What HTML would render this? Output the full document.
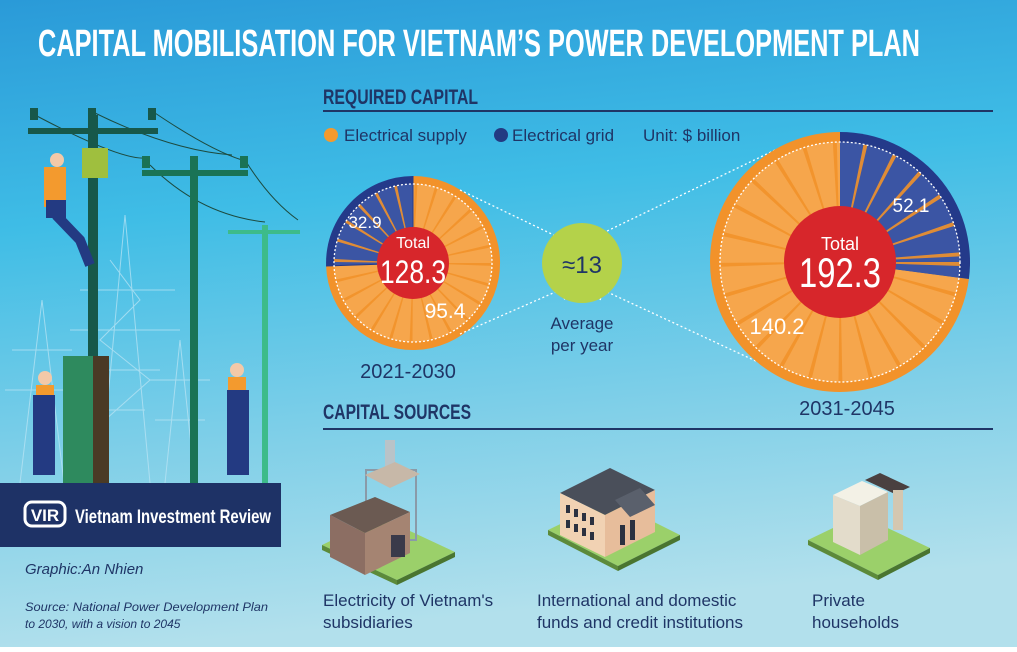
<!DOCTYPE html>
<html><head><meta charset="utf-8"><style>
html,body{margin:0;padding:0;}
body{width:1017px;height:647px;overflow:hidden;}
svg text{font-family:"Liberation Sans Narrow","Liberation Sans",sans-serif;}
</style></head><body>
<svg width="1017" height="647" viewBox="0 0 1017 647" xmlns="http://www.w3.org/2000/svg">
<defs>
<linearGradient id="bg" x1="0" y1="0" x2="0.15" y2="1">
<stop offset="0" stop-color="#2a9ad8"/><stop offset="0.35" stop-color="#3fbde6"/><stop offset="0.7" stop-color="#7fcfe8"/><stop offset="1" stop-color="#b2e0ec"/>
</linearGradient>
<clipPath id="cs"><circle cx="413" cy="263" r="79"/></clipPath>
<clipPath id="cb"><circle cx="840" cy="262" r="120"/></clipPath>
</defs>
<rect width="1017" height="647" fill="url(#bg)"/>

<text x="38" y="56" font-size="38" font-weight="bold" fill="#fff" textLength="882" lengthAdjust="spacingAndGlyphs">CAPITAL MOBILISATION FOR VIETNAM’S POWER DEVELOPMENT PLAN</text>

<text x="323" y="104" font-size="21" font-weight="bold" fill="#1f3566" textLength="155" lengthAdjust="spacingAndGlyphs">REQUIRED CAPITAL</text>
<line x1="323" y1="111" x2="993" y2="111" stroke="#1f3566" stroke-width="2"/>
<circle cx="331" cy="135" r="7" fill="#f39a2e"/>
<text x="344" y="141" font-size="17" fill="#1f3566" font-family="Liberation Sans">Electrical supply</text>
<circle cx="501" cy="135" r="7" fill="#233a82"/>
<text x="512" y="141" font-size="17" fill="#1f3566" font-family="Liberation Sans">Electrical grid</text>
<text x="643" y="141" font-size="17" fill="#1f3566" font-family="Liberation Sans">Unit: $ billion</text>

<!-- small pie -->
<path d="M413,263 L413,176 A87,87 0 1 1 326.1,266 Z" fill="#f2922a"/>
<path d="M413,263 L413,176 A87,87 0 0 0 326.1,266 Z" fill="#243a8a"/>
<g clip-path="url(#cs)">
<path d="M413,263 L413,176 A87,87 0 1 1 326.1,266 Z" fill="#f6a64c"/>
<path d="M413,263 L413,176 A87,87 0 0 0 326.1,266 Z" fill="#3b55a4"/>
<circle cx="413" cy="263" r="40" fill="none" stroke="#f2922a" stroke-width="80" stroke-dasharray="1.5 9" opacity="0.9"/>
</g>
<path d="M413,263 L413,176 M413,263 L326,266" stroke="#243a8a" stroke-width="1"/>
<circle cx="413" cy="263" r="79" fill="none" stroke="#fff" stroke-width="1.3" stroke-dasharray="2 2"/>
<circle cx="413" cy="263" r="36" fill="#d7262b"/>
<text x="413" y="248" font-size="16" fill="#fff" text-anchor="middle">Total</text>
<text x="413" y="283" font-size="32" fill="#fff" text-anchor="middle" textLength="66" lengthAdjust="spacingAndGlyphs">128.3</text>
<text x="365" y="228" font-size="17" fill="#fff" text-anchor="middle">32.9</text>
<text x="445" y="318" font-size="21" fill="#fff" text-anchor="middle">95.4</text>
<text x="408" y="378" font-size="20" fill="#1f3566" text-anchor="middle">2021-2030</text>

<!-- connectors -->
<g fill="none" stroke="#fff" stroke-width="1.3" stroke-dasharray="2 2.5">
<path d="M460,190 L560,238"/>
<path d="M460,334 L560,290"/>
<path d="M603,233 L775,150"/>
<path d="M603,290 L775,370"/>
<path d="M565,228 Q548,263 565,300"/>
<path d="M600,228 Q615,263 600,300"/>
</g>
<circle cx="582" cy="263" r="40" fill="#b4d24a"/>
<text x="582" y="273" font-size="24" fill="#1f3566" text-anchor="middle">≈13</text>
<text x="582" y="329" font-size="17" fill="#1f3566" text-anchor="middle">Average</text>
<text x="582" y="351" font-size="17" fill="#1f3566" text-anchor="middle">per year</text>

<!-- big pie -->
<path d="M840,262 L840,132 A130,130 0 1 0 968.9,279 Z" fill="#f2922a"/>
<path d="M840,262 L840,132 A130,130 0 0 1 968.9,279 Z" fill="#243a8a"/>
<g clip-path="url(#cb)">
<path d="M840,262 L840,132 A130,130 0 1 0 968.9,279 Z" fill="#f6a64c"/>
<path d="M840,262 L840,132 A130,130 0 0 1 968.9,279 Z" fill="#3b55a4"/>
<circle cx="840" cy="262" r="60" fill="none" stroke="#f2922a" stroke-width="120" stroke-dasharray="2 13.5" opacity="0.9"/>
</g>
<circle cx="840" cy="262" r="120" fill="none" stroke="#fff" stroke-width="1.3" stroke-dasharray="2 2"/>
<circle cx="840" cy="262" r="56" fill="#d7262b"/>
<text x="840" y="250" font-size="18" fill="#fff" text-anchor="middle">Total</text>
<text x="840" y="287" font-size="42" fill="#fff" text-anchor="middle" textLength="82" lengthAdjust="spacingAndGlyphs">192.3</text>
<text x="911" y="212" font-size="19" fill="#fff" text-anchor="middle">52.1</text>
<text x="777" y="334" font-size="22" fill="#fff" text-anchor="middle">140.2</text>
<text x="847" y="415" font-size="20" fill="#1f3566" text-anchor="middle">2031-2045</text>

<text x="323" y="419" font-size="21" font-weight="bold" fill="#1f3566" textLength="148" lengthAdjust="spacingAndGlyphs">CAPITAL SOURCES</text>
<line x1="323" y1="429" x2="993" y2="429" stroke="#1f3566" stroke-width="2"/>

<!-- icon 1: power plant -->
<polygon points="322,545 380,517 455,552 397,580" fill="#9bd06a"/>
<polygon points="322,545 397,580 397,585 322,550" fill="#5c8a3a"/>
<polygon points="397,580 455,552 455,557 397,585" fill="#4a7530"/>
<rect x="366" y="470" width="50" height="70" fill="none" stroke="#8a9aa8" stroke-width="2"/>
<rect x="385" y="440" width="10" height="40" fill="#b9c3c8"/>
<polygon points="365,475 395,462 420,474 390,488" fill="#c7b8a8"/>
<polygon points="330,515 375,497 410,512 365,533" fill="#6b5a52"/>
<polygon points="330,515 365,533 365,575 330,557" fill="#8c6e63"/>
<polygon points="365,533 410,512 410,553 365,575" fill="#a58472"/>
<rect x="391" y="535" width="14" height="22" fill="#3a3a4a"/>
<!-- icon 2: bank -->
<polygon points="548,530 610,500 680,535 618,566" fill="#9bd06a"/>
<polygon points="548,530 618,566 618,571 548,535" fill="#5c8a3a"/>
<polygon points="618,566 680,535 680,540 618,571" fill="#4a7530"/>
<polygon points="560,493 610,468 655,490 605,515" fill="#4a4f5a"/>
<polygon points="560,493 605,515 605,557 560,535" fill="#f1d2b3"/>
<polygon points="605,515 655,490 655,532 605,557" fill="#e7bd9b"/>
<g fill="#2b3140"><rect x="566" y="505" width="4" height="8"/><rect x="574" y="509" width="4" height="8"/><rect x="582" y="513" width="4" height="8"/><rect x="590" y="517" width="4" height="8"/><rect x="566" y="520" width="4" height="8"/><rect x="574" y="524" width="4" height="8"/><rect x="582" y="528" width="4" height="8"/><rect x="590" y="532" width="4" height="8"/><rect x="620" y="525" width="5" height="20"/><rect x="630" y="520" width="5" height="20"/></g>
<polygon points="615,500 640,488 655,505 630,517" fill="#5a606c"/>
<!-- icon 3: house -->
<polygon points="808,540 860,515 930,548 878,575" fill="#9bd06a"/>
<polygon points="808,540 878,575 878,580 808,545" fill="#5c8a3a"/>
<polygon points="878,575 930,548 930,553 878,580" fill="#4a7530"/>
<polygon points="833,495 862,481 888,492 860,506" fill="#f3f1e6"/>
<polygon points="833,495 860,506 860,555 833,542" fill="#e3dccb"/>
<polygon points="860,506 888,492 888,540 860,555" fill="#c9bfa9"/>
<polygon points="865,480 880,473 910,487 895,494" fill="#4a4040"/>
<rect x="893" y="490" width="10" height="40" fill="#d4c7b0"/>

<text x="323" y="606" font-size="17" fill="#1f3566" font-family="Liberation Sans">Electricity of Vietnam's</text>
<text x="323" y="628" font-size="17" fill="#1f3566" font-family="Liberation Sans">subsidiaries</text>
<text x="537" y="606" font-size="17" fill="#1f3566" font-family="Liberation Sans">International and domestic</text>
<text x="537" y="628" font-size="17" fill="#1f3566" font-family="Liberation Sans">funds and credit institutions</text>
<text x="812" y="606" font-size="17" fill="#1f3566" font-family="Liberation Sans">Private</text>
<text x="812" y="628" font-size="17" fill="#1f3566" font-family="Liberation Sans">households</text>

<!-- left illustration: towers -->
<g fill="none" stroke="#bfe6f5" stroke-width="1" opacity="0.7">
<path d="M125,215 L100,483 M125,215 L150,483 M80,290 L175,290 M70,330 L180,330 M90,370 L160,370 M105,410 L145,410 M110,260 L140,300 L100,340 L150,380 L105,420"/>
<path d="M42,300 L20,483 M42,300 L64,483 M12,350 L72,350 M5,390 L80,390"/>
<path d="M180,340 L165,483 M180,340 L195,483 M150,380 L210,380 M155,420 L205,420"/>
</g>
<!-- wires -->
<g fill="none" stroke="#1d4a3e" stroke-width="1">
<path d="M35,115 Q120,160 145,158"/><path d="M155,113 Q210,150 242,160"/><path d="M95,113 Q170,150 232,155"/>
<path d="M150,165 Q200,215 265,222"/><path d="M245,160 Q270,200 298,220"/>
</g>
<!-- poles -->
<rect x="88" y="115" width="10" height="368" fill="#17584a"/>
<rect x="28" y="128" width="130" height="6" fill="#17584a"/>
<g fill="#17584a"><rect x="30" y="108" width="8" height="12"/><rect x="88" y="108" width="8" height="12"/><rect x="148" y="108" width="8" height="12"/></g>
<rect x="190" y="165" width="8" height="318" fill="#1a7355"/>
<rect x="142" y="170" width="106" height="6" fill="#1a7355"/>
<g fill="#1a7355"><rect x="142" y="156" width="8" height="12"/><rect x="190" y="156" width="8" height="12"/><rect x="240" y="156" width="8" height="12"/></g>
<rect x="262" y="225" width="6" height="258" fill="#3dbb8a"/>
<rect x="228" y="230" width="72" height="4" fill="#3dbb8a"/>
<rect x="82" y="148" width="26" height="30" fill="#9fbf3e"/>
<!-- cabinet -->
<rect x="63" y="356" width="30" height="127" fill="#2e8a5e"/>
<rect x="93" y="356" width="16" height="127" fill="#4a3a25"/>
<!-- workers -->
<g>
<circle cx="57" cy="160" r="7" fill="#f3c9a8"/><rect x="44" y="167" width="22" height="40" fill="#f39a2e"/>
<rect x="46" y="200" width="20" height="18" fill="#233a82"/><path d="M56,215 L80,240 L90,265" stroke="#233a82" stroke-width="10" fill="none"/>
<circle cx="45" cy="378" r="7" fill="#f3c9a8"/><rect x="36" y="385" width="18" height="30" fill="#f39a2e"/><rect x="33" y="395" width="22" height="80" fill="#233a82"/>
<circle cx="237" cy="370" r="7" fill="#f3c9a8"/><rect x="228" y="377" width="18" height="30" fill="#f39a2e"/><rect x="227" y="390" width="22" height="85" fill="#233a82"/>
</g>
<!-- banner -->
<rect x="0" y="483" width="281" height="64" fill="#1e3266"/>
<rect x="25" y="502" width="40" height="24" rx="7" fill="none" stroke="#fff" stroke-width="3"/>
<text x="45" y="521" font-size="17" font-weight="bold" fill="#fff" text-anchor="middle" font-family="Liberation Sans">VIR</text>
<text x="75" y="523" font-size="19" font-weight="bold" fill="#fff" font-family="Liberation Serif" textLength="196" lengthAdjust="spacingAndGlyphs">Vietnam Investment Review</text>
<text x="25" y="574" font-size="15" font-style="italic" fill="#1f3566" font-family="Liberation Sans">Graphic:An Nhien</text>
<text x="25" y="611" font-size="12" font-style="italic" fill="#1f3566" font-family="Liberation Sans" textLength="243" lengthAdjust="spacingAndGlyphs">Source: National Power Development Plan</text>
<text x="25" y="628" font-size="12" font-style="italic" fill="#1f3566" font-family="Liberation Sans">to 2030, with a vision to 2045</text>
</svg>
</body></html>
